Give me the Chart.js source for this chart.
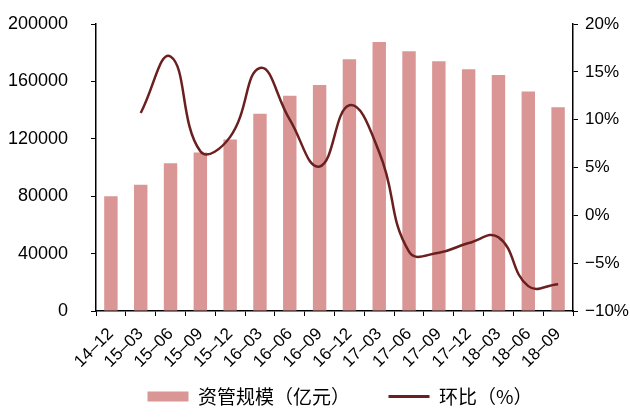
<!DOCTYPE html>
<html>
<head>
<meta charset="utf-8">
<script src="https://cdn.jsdelivr.net/npm/chart.js@4"></script>
<style>
  body { margin: 0; background: #fff; }
  #wrap { width: 630px; height: 418px; }
</style>
</head>
<body>
<div id="wrap"><canvas id="aumChart"></canvas></div>
<script>
const quarters = ['14–12', '15–03', '15–06', '15–09', '15–12', '16–03', '16–06', '16–09',
                  '16–12', '17–03', '17–06', '17–09', '17–12', '18–03', '18–06', '18–09'];
// 资管规模（亿元）
const aumSize = [80000, 88000, 103000, 110500, 119500, 137500, 150000, 157500,
                 175500, 187500, 181000, 174000, 168500, 164500, 153000, 142000];
// 环比（%）
const qoqChange = [null, 10.7, 16.6, 6.7, 8.2, 15.4, 10.0, 5.1,
                   11.5, 6.6, -3.8, -3.9, -2.9, -2.3, -7.4, -7.2];
const leftTicks = [0, 40000, 80000, 120000, 160000, 200000];
const rightTicks = [-10, -5, 0, 5, 10, 15, 20];

const barColor = '#d99694';
const lineColor = '#6b2020';
const fontFam = '"Liberation Sans", Arial, sans-serif';
const legendFam = '"Noto Sans CJK SC", sans-serif';

// the legend in the original sits a bit right of the canvas centre
const legendShift = {
    id: 'legendShift',
    afterLayout: function (chart) {
        if (chart.legend) {
            chart.legend.left += 25;
            chart.legend.right += 25;
        }
    }
};

// fixed axis sizes; tick padding would otherwise push the plot top down
function fixWidth(w) {
    return function (axis) {
        axis.width = w;
        axis.paddingTop = 0;
        axis.paddingBottom = 0;
    };
}

const ctx = document.getElementById('aumChart');

new Chart(ctx, {
    type: 'bar',
    data: {
        labels: quarters,
        datasets: [{
            label: '资管规模（亿元）',
            data: aumSize,
            backgroundColor: barColor,
            yAxisID: 'y',
            categoryPercentage: 1,
            barPercentage: 0.45,
            order: 1
        }, {
            type: 'line',
            label: '环比（%）',
            data: qoqChange,
            borderColor: lineColor,
            backgroundColor: lineColor,
            borderWidth: 2.5,
            pointRadius: 0,
            tension: 0.45,
            yAxisID: 'y1',
            order: 0
        }]
    },
    plugins: [legendShift],
    options: {
        responsive: true,
        maintainAspectRatio: false,
        animation: false,
        layout: { padding: { top: 24, left: 0, right: 0, bottom: 2 } },
        plugins: {
            tooltip: { enabled: false },
            legend: {
                position: 'bottom',
                labels: {
                    color: '#000',
                    font: { family: legendFam, size: 19 },
                    usePointStyle: true,
                    pointStyleWidth: 41,
                    boxHeight: 10,
                    padding: 10,
                    generateLabels: function (chart) {
                        return chart.data.datasets.map(function (ds, i) {
                            const isLine = ds.type === 'line';
                            return {
                                // ideographic spaces widen the gap between the two items
                                text: isLine ? ds.label : ds.label + '\u3000\u3000',
                                fillStyle: isLine ? lineColor : barColor,
                                strokeStyle: isLine ? lineColor : barColor,
                                lineWidth: isLine ? 3 : 0,
                                pointStyle: isLine ? 'line' : 'rect',
                                fontColor: '#000',
                                datasetIndex: i
                            };
                        });
                    }
                }
            }
        },
        scales: {
            x: {
                grid: { display: true, drawOnChartArea: false, offset: true, color: '#000', tickLength: 5 },
                border: { color: '#000', width: 1.5 },
                ticks: {
                    color: '#000',
                    font: { family: fontFam, size: 17 },
                    autoSkip: false,
                    maxRotation: 45,
                    minRotation: 45,
                    padding: 8
                },
                afterFit: function (axis) { axis.height = 66; }
            },
            y: {
                position: 'left',
                min: 0,
                max: 200000,
                afterBuildTicks: function (axis) {
                    axis.ticks = leftTicks.map(function (v) { return { value: v }; });
                },
                grid: { drawOnChartArea: false, color: '#000', tickLength: 5 },
                border: { color: '#000', width: 1.5 },
                ticks: {
                    color: '#000',
                    font: { family: fontFam, size: 18 },
                    padding: 23,
                    callback: function (v) { return String(v); }
                },
                afterFit: fixWidth(96)
            },
            y1: {
                position: 'right',
                min: -10,
                max: 20,
                afterBuildTicks: function (axis) {
                    axis.ticks = rightTicks.map(function (v) { return { value: v }; });
                },
                grid: { drawOnChartArea: false, color: '#000', tickLength: 5 },
                border: { color: '#000', width: 1.5 },
                ticks: {
                    color: '#000',
                    font: { family: fontFam, size: 17 },
                    padding: 7,
                    callback: function (v) { return (v < 0 ? '−' + Math.abs(v) : v) + '%'; }
                },
                afterFit: fixWidth(57)
            }
        }
    }
});
</script>
</body>
</html>
